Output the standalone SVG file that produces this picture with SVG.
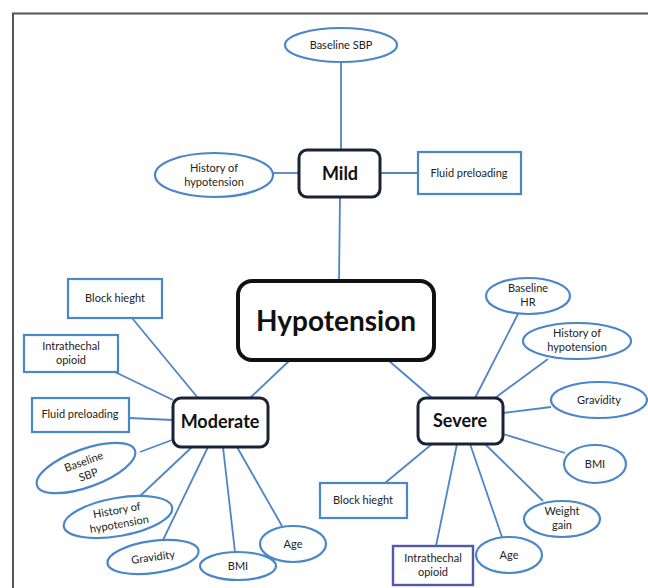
<svg xmlns="http://www.w3.org/2000/svg" width="648" height="588" viewBox="0 0 648 588">
<style>
.frame{stroke:#555;stroke-width:2;fill:none}
.main{fill:#fff;stroke:#111;stroke-width:4}
.sub{fill:#fff;stroke:#1a2233;stroke-width:3}
.ell{fill:#fff;stroke:#4a86c8;stroke-width:2.2}
.box{fill:#fff;stroke:#4a86c8;stroke-width:2.2}
.box2{fill:#fff;stroke:#5458a8;stroke-width:2.4}
.con line{stroke:#4f85c4;stroke-width:1.8}
text{font-family:Lato,"Open Sans","Liberation Sans",sans-serif;fill:#222;text-anchor:middle}
.t{font-size:11px}
.tb{font-size:18px;font-weight:bold;fill:#111}
.tm{font-size:28px;font-weight:bold;fill:#111}
</style>
<rect width="648" height="588" fill="#fff"/>
<path class="frame" d="M13 588 V13.5 H648"/>
<g class="con">
<line x1="341" y1="62" x2="341" y2="150"/>
<line x1="273" y1="173" x2="299" y2="173"/>
<line x1="380" y1="173" x2="418" y2="173"/>
<line x1="340" y1="197" x2="339" y2="281"/>
<line x1="290" y1="360" x2="250" y2="398"/>
<line x1="388" y1="360" x2="432" y2="398"/>
<line x1="132" y1="318" x2="198" y2="398"/>
<line x1="115" y1="372" x2="173" y2="400"/>
<line x1="129" y1="418" x2="173" y2="420"/>
<line x1="140" y1="452" x2="172" y2="440"/>
<line x1="140" y1="496" x2="192" y2="447"/>
<line x1="163" y1="540" x2="208" y2="447"/>
<line x1="235" y1="552" x2="223" y2="447"/>
<line x1="282" y1="526" x2="237" y2="447"/>
<line x1="518" y1="314" x2="475" y2="398"/>
<line x1="548" y1="359" x2="495" y2="398"/>
<line x1="551" y1="407" x2="503" y2="413"/>
<line x1="503" y1="434" x2="565" y2="453"/>
<line x1="485" y1="444" x2="543" y2="501"/>
<line x1="470" y1="444" x2="502" y2="537"/>
<line x1="457" y1="444" x2="436" y2="546"/>
<line x1="432" y1="444" x2="385" y2="483"/>
</g>
<g id="hypotension"><rect class="main" x="238" y="281" width="196" height="79" rx="14"/><text class="tm" x="336" y="331">Hypotension</text></g>
<g id="mild"><rect class="sub" x="299" y="150" width="81" height="47" rx="8"/><text class="tb" x="340" y="180">Mild</text></g>
<g id="moderate"><rect class="sub" x="173" y="398" width="95" height="49" rx="8"/><text class="tb" x="220" y="428">Moderate</text></g>
<g id="severe"><rect class="sub" x="418" y="398" width="85" height="46" rx="8"/><text class="tb" x="460" y="427">Severe</text></g>

<g id="mild-sbp"><ellipse class="ell" cx="341" cy="45" rx="56" ry="17"/><text class="t" x="341" y="49">Baseline SBP</text></g>
<g id="mild-history"><ellipse class="ell" cx="214" cy="175" rx="59" ry="22"/><text class="t" x="214" y="172">History of</text><text class="t" x="214" y="186">hypotension</text></g>
<g id="mild-fluid"><rect class="box" x="418" y="152" width="103" height="42"/><text class="t" x="469" y="177">Fluid preloading</text></g>

<g id="mod-block"><rect class="box" x="68" y="279" width="94" height="39"/><text class="t" x="115" y="302">Block hieght</text></g>
<g id="mod-opioid"><rect class="box" x="24" y="335" width="94" height="37"/><text class="t" x="71" y="350">Intrathechal</text><text class="t" x="71" y="364">opioid</text></g>
<g id="mod-fluid"><rect class="box" x="32" y="398" width="97" height="34"/><text class="t" x="80" y="418">Fluid preloading</text></g>
<g id="mod-sbp" transform="translate(86 468) rotate(-20)"><ellipse class="ell" cx="0" cy="0" rx="52" ry="19"/><text class="t" x="0" y="-3">Baseline</text><text class="t" x="0" y="11">SBP</text></g>
<g id="mod-history" transform="translate(118 517) rotate(-10)"><ellipse class="ell" cx="0" cy="0" rx="55" ry="19"/><text class="t" x="0" y="-3">History of</text><text class="t" x="0" y="11">hypotension</text></g>
<g id="mod-gravidity" transform="translate(153 557) rotate(-8)"><ellipse class="ell" cx="0" cy="0" rx="46" ry="16"/><text class="t" x="0" y="4">Gravidity</text></g>
<g id="mod-bmi"><ellipse class="ell" cx="238" cy="566" rx="38" ry="14"/><text class="t" x="238" y="570">BMI</text></g>
<g id="mod-age"><ellipse class="ell" cx="293" cy="544" rx="33" ry="18"/><text class="t" x="293" y="548">Age</text></g>

<g id="sev-hr"><ellipse class="ell" cx="528" cy="296" rx="42" ry="18"/><text class="t" x="528" y="292">Baseline</text><text class="t" x="528" y="306">HR</text></g>
<g id="sev-history"><ellipse class="ell" cx="577" cy="341" rx="54" ry="18"/><text class="t" x="577" y="337">History of</text><text class="t" x="577" y="351">hypotension</text></g>
<g id="sev-gravidity"><ellipse class="ell" cx="599" cy="400" rx="48" ry="18"/><text class="t" x="599" y="404">Gravidity</text></g>
<g id="sev-bmi"><ellipse class="ell" cx="595" cy="464" rx="31" ry="19"/><text class="t" x="595" y="468">BMI</text></g>
<g id="sev-weight"><ellipse class="ell" cx="562" cy="519" rx="38" ry="18"/><text class="t" x="562" y="515">Weight</text><text class="t" x="562" y="529">gain</text></g>
<g id="sev-age"><ellipse class="ell" cx="509" cy="555" rx="33" ry="18"/><text class="t" x="509" y="559">Age</text></g>
<g id="sev-opioid"><rect class="box2" x="393" y="546" width="80" height="39"/><text class="t" x="433" y="562">Intrathechal</text><text class="t" x="433" y="576">opioid</text></g>
<g id="sev-block"><rect class="box" x="320" y="483" width="87" height="35"/><text class="t" x="363" y="504">Block hieght</text></g>
</svg>
